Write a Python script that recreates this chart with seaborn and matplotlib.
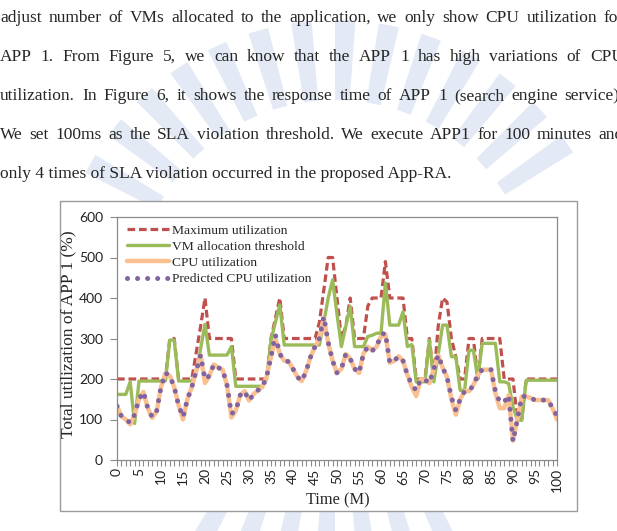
import matplotlib
matplotlib.use("Agg")
import matplotlib.pyplot as plt
import seaborn as sns
import pandas as pd
import numpy as np
from matplotlib.patches import Rectangle, Wedge

# ---------------- data ----------------
minutes = list(range(0, 101))

max_util = ([200] * 12 + [300, 300] + [200] * 4 + [265, 330, 400] + [300] * 6 +
            [200] * 8 + [300, 350, 400] + [300] * 8 + [340, 420, 500, 500, 400] +
            [300, 330, 400] + [300] * 3 + [380, 400, 400, 400, 490, 400, 400, 400, 400] +
            [300, 300] + [200, 200, 200] + [300, 200, 330, 400, 390] +
            [300, 255, 200, 200] + [300, 300, 200] + [300] * 5 +
            [200, 200, 200, 100, 100] + [200] * 8)

vm_threshold = ([162, 162, 162, 193, 90] + [195] * 7 + [296, 296] + [195] * 4 +
                [215, 275, 335] + [259] * 5 + [280] + [182] * 7 + [200] +
                [296, 340, 383] + [284] * 9 + [340, 400, 445, 360] +
                [280, 330, 379] + [280] * 3 + [305, 308, 313, 313, 437] +
                [333] * 3 + [366, 280, 285] + [193] * 3 + [296, 193, 260, 333, 333] +
                [255, 255, 172, 172, 271, 271, 201] + [288] * 4 +
                [193, 193, 189, 131, 98, 98] + [197] * 8)

pred_util = [133, 108, 100, 92, 112, 150, 168, 128, 106, 120,
             180, 215, 208, 180, 135, 106, 150, 180, 220, 259,
             199, 208, 236, 228, 223, 185, 114, 122, 160, 170,
             147, 162, 172, 180, 205, 255, 309, 262, 245, 243,
             225, 205, 195, 220, 255, 280, 300, 354, 290, 245,
             215, 225, 262, 250, 225, 215, 262, 280, 270, 280,
             309, 314, 240, 245, 256, 245, 210, 186, 172, 199,
             198, 190, 225, 259, 228, 205, 155, 123, 150, 170,
             170, 185, 210, 223, 223, 223, 170, 143, 143, 160,
             46, 100, 157, 157, 153, 148, 148, 148, 148, 127, 110]

cpu_util = [133, 108, 100, 88, 112, 150, 168, 128, 104, 120,
            180, 215, 208, 180, 135, 100, 150, 180, 220, 259,
            190, 208, 236, 228, 223, 185, 105, 122, 160, 170,
            147, 162, 172, 180, 205, 255, 300, 262, 245, 243,
            225, 205, 195, 220, 255, 280, 300, 350, 290, 245,
            215, 225, 262, 250, 225, 215, 262, 280, 270, 280,
            305, 310, 240, 245, 256, 245, 210, 180, 158, 199,
            198, 190, 225, 259, 228, 205, 150, 112, 150, 170,
            170, 185, 210, 223, 223, 223, 165, 128, 128, 160,
            48, 100, 157, 157, 153, 148, 148, 148, 148, 127, 100]

series_names = ["Maximum utilization", "VM allocation threshold",
                "CPU utilization", "Predicted CPU utilization"]
x_ticks = list(range(0, 101, 5))
y_ticks = list(range(0, 601, 100))
x_title = "Time (M)"
y_title = "Total utilization of APP 1 (%)"

para_lines = [
    "adjust number of VMs allocated to the application, we only show CPU utilization for",
    "APP 1. From Figure 5, we can know that the APP 1 has high variations of CPU",
    "utilization. In Figure 6, it shows the response time of APP 1 (search engine service).",
    "We set 100ms as the SLA violation threshold. We execute APP1 for 100 minutes and",
    "only 4 times of SLA violation occurred in the proposed App-RA.",
]

# ---------------- style ----------------
sns.set_style("white")
plt.rcParams["font.family"] = ["Liberation Serif", "DejaVu Serif"]

W, H = 617, 531
fig = plt.figure(figsize=(W / 100, H / 100), dpi=100)

def fx(px):
    return px / W

def fy(py):
    return 1 - py / H

# ---------------- faint watermark (page background) ----------------
bg = fig.add_axes([0, 0, 1, 1], zorder=-5)
bg.set_xlim(0, W)
bg.set_ylim(H, 0)
bg.axis("off")
cx, cy = 335, 300
wm_color = "#e3eaf5"
for ang in list(np.arange(207, 330, 9.0)) + list(np.arange(63, 120, 9.0)):
    bg.add_patch(Wedge((cx, cy), 280, ang, ang + 4.2, width=80,
                       facecolor=wm_color, edgecolor="none"))

# ---------------- paragraph ----------------
renderer = fig.canvas.get_renderer()
para_size = 12.55
baselines = [22, 61, 100, 139, 178]
for i, (line, yb) in enumerate(zip(para_lines, baselines)):
    if i == len(para_lines) - 1:
        fig.text(fx(0), fy(yb), line, fontsize=para_size, va="baseline", ha="left")
        continue
    words = line.split(" ")
    texts = [fig.text(0, fy(yb), w, fontsize=para_size, va="baseline", ha="left") for w in words]
    widths = [t.get_window_extent(renderer).width for t in texts]
    right = 624
    gap = (right - 0 - sum(widths)) / (len(words) - 1)
    x = 0.0
    for t, w in zip(texts, widths):
        t.set_x(fx(x))
        x += w + gap

# ---------------- chart frame ----------------
fig.patches.append(Rectangle((fx(60), fy(511)), fx(577) - fx(60), fy(201) - fy(511),
                             transform=fig.transFigure, facecolor="white",
                             edgecolor="#9a9a9a", linewidth=1.0, zorder=-1))

ax = fig.add_axes([fx(117), fy(460), fx(557) - fx(117), fy(217) - fy(460)])

df = pd.DataFrame({"minute": minutes, "max": max_util, "vm": vm_threshold,
                   "cpu": cpu_util, "pred": pred_util})

sns.lineplot(data=df, x="minute", y="max", ax=ax, color="#C0504D", linewidth=2.3,
             linestyle=(0, (2.4, 1.2)), label=series_names[0])
sns.lineplot(data=df, x="minute", y="vm", ax=ax, color="#9BBB59", linewidth=2.4,
             label=series_names[1])
sns.lineplot(data=df, x="minute", y="cpu", ax=ax, color="#FAC090", linewidth=3.2,
             label=series_names[2])
sns.lineplot(data=df, x="minute", y="pred", ax=ax, color="#8064A2", linewidth=3.6,
             linestyle=(0, (0.01, 2.0)), label=series_names[3])
for ln in ax.lines:
    ln.set_solid_joinstyle("round")
ax.lines[3].set_dash_capstyle("round")

ax.set_xlim(0, 100)
ax.set_ylim(0, 600)
ax.set_xticks(x_ticks)
ax.set_xticklabels([str(v) for v in x_ticks], rotation=90, fontfamily="Lato",
                   fontsize=10, color="#222222")
ax.set_xticks(minutes, minor=True)
ax.set_yticks(y_ticks)
ax.set_yticklabels([str(v) for v in y_ticks], fontfamily="Lato", fontsize=10,
                   color="#222222")
ax.tick_params(axis="x", which="both", direction="out", length=4, width=0.8,
               color="#8a8a8a", bottom=True, pad=2)
ax.tick_params(axis="y", which="major", direction="out", length=5, width=0.8,
               color="#8a8a8a", left=True, pad=5)
for sp in ax.spines.values():
    sp.set_color("#8a8a8a")
    sp.set_linewidth(0.9)
ax.set_xlabel("")
ax.set_ylabel("")

fig.text(fx(68), fy(334), y_title, rotation=90, fontsize=12.5, ha="center", va="center")
fig.text(fx(338), fy(500), x_title, fontsize=11.8, ha="center", va="center")

leg = ax.legend(loc="upper left", bbox_to_anchor=(0.0227, 0.97), frameon=False,
                fontsize=9.7, handlelength=3.1, handletextpad=0.25, labelspacing=0.28,
                borderpad=0, borderaxespad=0)

fig.savefig("out.png", dpi=100)
